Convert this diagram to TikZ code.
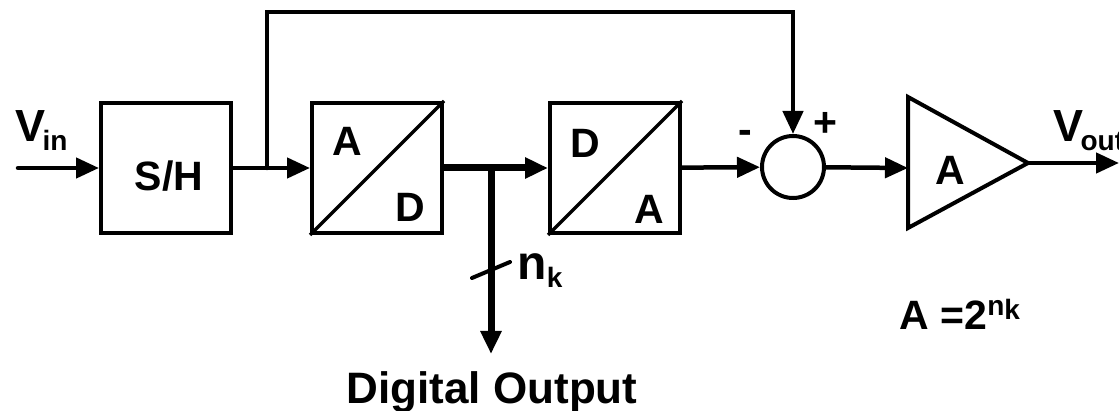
\documentclass[tikz,border=0pt]{standalone}
\usepackage{fontspec}
\setmainfont{Liberation Sans}
\usetikzlibrary{arrows.meta}
\tikzset{
  blk/.style={draw, line width=4pt, minimum width=130pt, minimum height=130pt, inner sep=0pt},
  sig/.style={line width=4.5pt, line cap=round, -{Triangle[length=23pt,width=20pt]}},
  bus/.style={line width=7pt},
}
\newcommand{\lo}[2]{\kern-3pt\raisebox{-#1}{\fontsize{28}{28}\selectfont #2}}
\begin{document}
\begin{tikzpicture}[x=1pt,y=-1pt, font=\fontsize{41}{44}\selectfont\bfseries]
    \useasboundingbox (0,0) rectangle (1119,411);
    % blocks
    \node[blk] (sh) at (166,168) {};
    \node at (169,176) {S/H};
    \node[blk] (ad) at (377,168) {};
    \draw[line width=3.5pt] (ad.south west) -- (ad.north east);
    \node (adA) at (347,141) {A};
    \node (adD) at (410,207) {D};
    \node[blk] (da) at (615,168) {};
    \draw[line width=3.5pt] (da.south west) -- (da.north east);
    \node (daD) at (585,143) {D};
    \node (daA) at (649,209) {A};
    \node[circle, draw, line width=4pt, minimum size=62pt, inner sep=0pt] (sum) at (793,167) {};
    \node (minus) at (745,137) {-};
    \node (plus) at (825,124) {+};
    \draw[line width=4pt, line join=miter] (908,97) -- (1028,163) -- (908,228) -- cycle;
    \coordinate (ampin) at (908,168);
    \coordinate (ampout) at (1028,163);
    \node (amp) at (950,170) {A};
    % signals
    \coordinate (vi) at (18,168);
    \coordinate (br) at (267,168);
    \coordinate (topc) at (793,12);
    \coordinate (bj) at (491,168);
    \coordinate (dout) at (491,354);
    \coordinate (vo) at (1119,163);
    \node[anchor=base west, font=\fontsize{45}{45}\selectfont\bfseries] (vin) at (12,142) {V\lo{9pt}{in}};
    \node[anchor=base west, font=\fontsize{45}{45}\selectfont\bfseries] (vout) at (1050,142) {V\lo{9pt}{out}};
    \draw[sig] (vi) -- (sh);
    \draw[sig] (sh) -- (ad);
    \draw[sig] (br) |- (topc) -- (sum);
    \draw[bus] (ad.east) -- (bj);
    \draw[bus, -{Triangle[length=23pt,width=20pt]}] (bj) -- (da.west);
    \draw[bus, -{Triangle[length=23pt,width=20pt]}] (bj) -- (dout);
    \draw[line width=4pt, line cap=round] (472,278) -- (510,262);
    \node[anchor=base west, font=\fontsize{48}{48}\selectfont\bfseries] (nk) at (514,280) {n\raisebox{-8pt}{\fontsize{28}{28}\selectfont k}};
    \node[anchor=base, font=\fontsize{44}{44}\selectfont\bfseries] (dig) at (492,403) {Digital Output};
    \draw[sig] (da) -- (sum);
    \draw[sig] (sum) -- (ampin);
    \draw[sig] (ampout) -- (vo);
    \node[anchor=base west] (gain) at (896,330) {A =2\raisebox{14pt}{\fontsize{28}{28}\selectfont n\raisebox{-4pt}{k}}};
\end{tikzpicture}
\end{document}
